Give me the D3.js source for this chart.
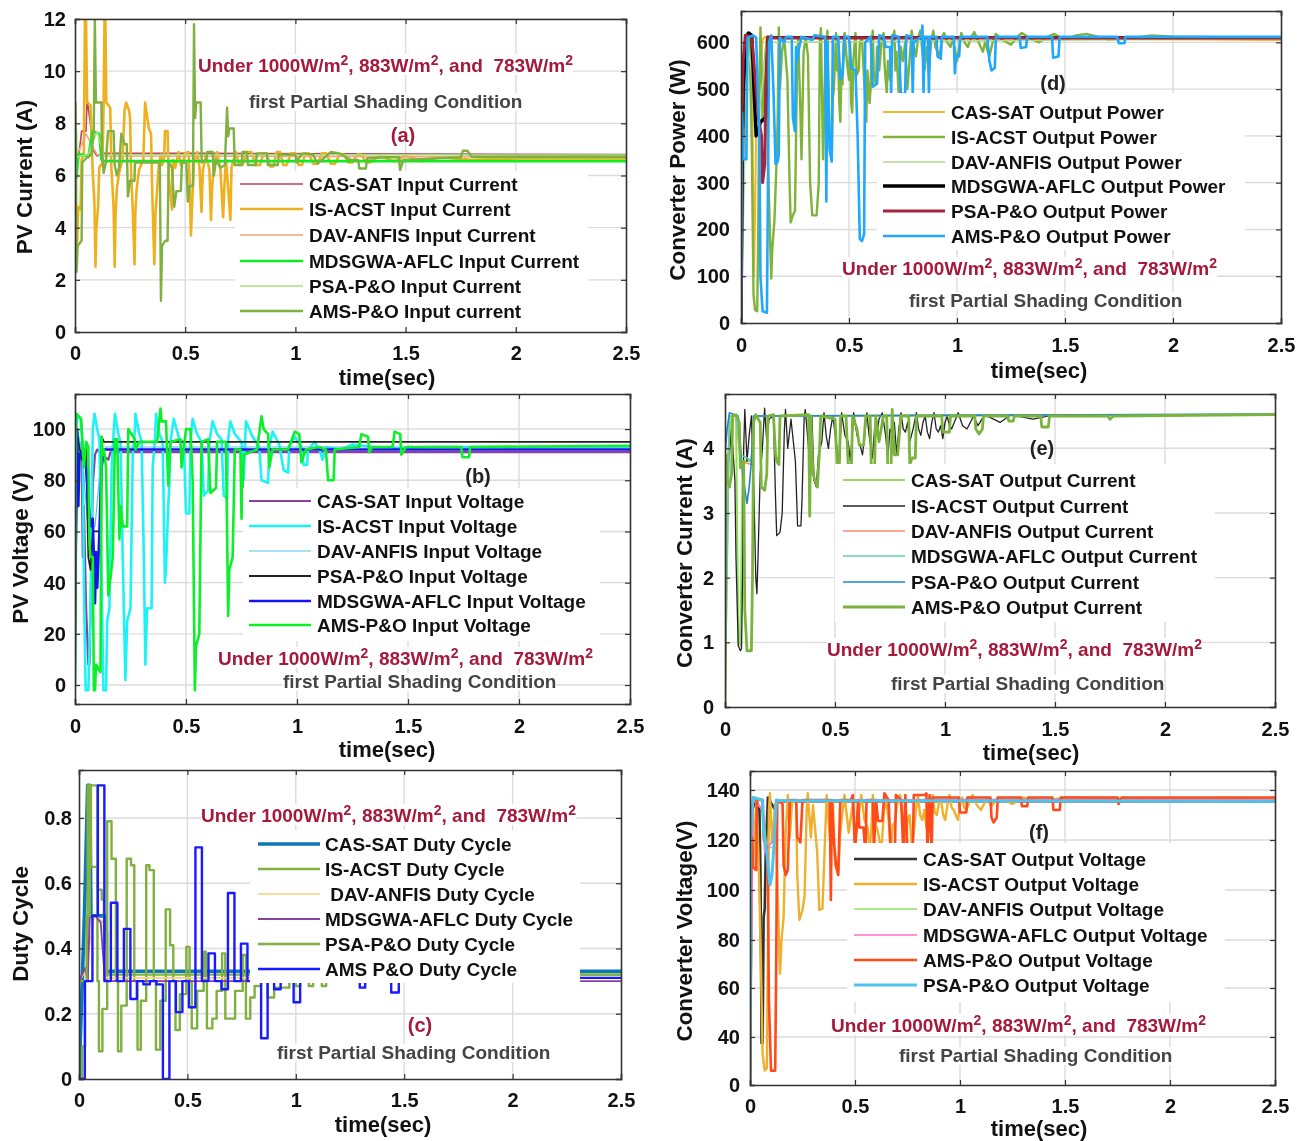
<!DOCTYPE html>
<html>
<head>
<meta charset="utf-8">
<script src="https://cdn.jsdelivr.net/npm/d3@7"></script>
<style>
  html, body { margin: 0; padding: 0; background: #fff; }
  svg { display: block; font-family: "Liberation Sans", Arial, sans-serif; filter: blur(0.45px); }
</style>
</head>
<body>
<div id="chart"></div>
<script>
const timeTicks = [0, 0.5, 1, 1.5, 2, 2.5];

// (a) PV current
const aTicks = [0, 2, 4, 6, 8, 10, 12];
const aNames = ['CAS-SAT Input Current', 'IS-ACST Input Current', 'DAV-ANFIS Input Current', 'MDSGWA-AFLC Input Current', 'PSA-P&O Input Current', 'AMS-P&O Input current'];
const aCas = [[0,6.5],[.015,6.6],[.03,7.7],[.05,7.7],[.055,8.9],[.07,8],[.08,7],[.1,6.75],[.13,6.85],[.56,6.85],[2.5,6.8]];
const aIs = [[0,2.3],[.01,3.5],[.015,4.8],[.025,4.7],[.03,6.6],[.04,6.8],[.045,12],[.05,12],[.055,8.8],[.07,8.7],[.075,7.5],[.08,6.2],[.088,5],[.093,2.5],[.097,4],[.105,4.8],[.11,6.3],[.125,6.5],[.13,8.8],[.134,12],[.138,12],[.142,8.8],[.16,8.6],[.165,6.3],[.175,4.8],[.18,2.5],[.184,4.5],[.19,5.5],[.2,6.1],[.215,6.6],[.225,8.5],[.232,8.8],[.245,8.5],[.25,8.2],[.255,6],[.262,4.7],[.27,2.6],[.274,4.6],[.28,5.5],[.29,6.2],[.31,6.6],[.318,8.8],[.325,8.4],[.335,7.8],[.345,7.6],[.35,5.5],[.36,2.6],[.365,4.5],[.38,6.4],[.39,6.8],[.395,6.4],[.405,6.7],[.408,7.7],[.42,7.7],[.425,6],[.44,4.7],[.445,6.6],[.455,6.3],[.47,6.9],[.48,6.4],[.49,6.5],[.5,6.85],[.515,6.9],[.52,5.8],[.526,3.7],[.532,5],[.54,6.5],[.555,6.9],[.565,6.3],[.574,4.6],[.58,6.2],[.595,6.8],[.61,6.2],[.617,4.3],[.622,5.5],[.63,6.4],[.645,6.9],[.66,6.2],[.672,4.4],[.678,5.6],[.685,6.6],[.695,5.5],[.705,4.3],[.71,6.3],[.73,6.9],[.745,6.4],[.76,6.4],[.78,6.9],[.8,6.9],[.82,6.4],[.84,6.4],[.855,6.85],[.87,6.85],[.885,6.35],[.9,6.35],[.915,6.9],[.93,6.9],[.945,6.4],[.96,6.4],[.98,6.85],[1,6.85],[1.015,6.4],[1.03,6.4],[1.045,6.85],[1.06,6.85],[1.08,6.45],[1.1,6.45],[1.12,6.85],[1.14,6.85],[1.16,6.45],[1.18,6.45],[1.2,6.8],[1.22,6.8],[1.24,6.5],[1.26,6.5],[1.28,6.8],[1.3,6.8],[1.32,6.5],[1.34,6.5],[1.38,6.75],[1.45,6.55],[1.5,6.75],[1.58,6.55],[1.65,6.7],[1.8,6.6],[2,6.65],[2.5,6.65]];
const aDav = [[0,6.6],[.05,7.6],[.1,6.8],[.13,6.75],[2.5,6.7]];
const aMds = [[0,6.5],[.004,7.7],[.007,5.9],[.015,6.8],[.04,6.8],[.06,6.7],[.08,7.7],[.11,7.6],[.12,6.6],[.13,6.55],[2.5,6.55]];
const aPsa = [[0,6.7],[.06,6.8],[.1,7.7],[.13,6.8],[2.5,6.78]];
const aAms = [[0,6.8],[.002,8.8],[.005,6],[.007,2.3],[.012,3.3],[.03,3.5],[.033,6.5],[.055,6.7],[.075,6.8],[.085,7.7],[.09,12],[.095,8.8],[.12,8.8],[.122,7],[.13,6.1],[.14,6.5],[.15,7.7],[.175,7.7],[.18,6.4],[.19,6],[.2,6.3],[.21,7.6],[.225,7.2],[.235,7.2],[.24,5.2],[.25,5.8],[.27,5.8],[.272,6.5],[.385,6.5],[.39,1.2],[.395,3.3],[.41,3.5],[.42,3.5],[.425,6.5],[.44,6.3],[.45,4.8],[.46,5.4],[.48,5.4],[.485,6.5],[.505,6.5],[.512,5],[.52,5.6],[.535,5.6],[.54,11.8],[.545,8.2],[.55,8.8],[.57,8.8],[.575,6.5],[.595,6.6],[.6,6.9],[.625,6.9],[.63,6],[.64,6.6],[.66,6.3],[.68,6.4],[.69,8.6],[.695,7.5],[.7,7.8],[.72,7.8],[.725,6.4],[.755,6.4],[.76,6.9],[.78,6.9],[.785,6.4],[.82,6.4],[.825,6.85],[.87,6.85],[.875,6.4],[.92,6.4],[.925,6.8],[1,6.8],[1.005,6.5],[1.03,6.85],[1.08,6.8],[1.1,6.45],[1.16,6.9],[1.2,6.85],[1.25,6.6],[1.285,6.6],[1.29,6.27],[1.32,6.27],[1.325,6.65],[1.4,6.7],[1.47,6.7],[1.475,6.2],[1.49,6.6],[1.75,6.7],[1.76,6.95],[1.78,6.95],[1.8,6.72],[2.5,6.72]];

// (b) PV voltage
const bTicks = [0, 20, 40, 60, 80, 100];
const bNames = ['CAS-SAT Input Voltage', 'IS-ACST Input Voltage', 'DAV-ANFIS Input Voltage', 'PSA-P&O Input Voltage', 'MDSGWA-AFLC Input Voltage', 'AMS-P&O Input Voltage'];
const bCas = [[0,90],[.03,90],[.035,50],[.04,70],[.05,30],[.06,8],[.065,8],[.07,28],[.08,78],[.09,90],[.1,92],[.11,91],[.15,88],[.16,91],[2.5,91]];
const bIs = [[0,0],[.004,100],[.01,105],[.025,104],[.035,94],[.04,40],[.048,-2],[.06,-2],[.07,30],[.08,100],[.088,106],[.1,100],[.11,96],[.12,40],[.128,-2],[.14,-2],[.145,25],[.155,30],[.165,85],[.175,100],[.18,106],[.195,98],[.205,95],[.215,50],[.227,2],[.235,25],[.25,30],[.26,90],[.27,100],[.272,106],[.29,98],[.3,95],[.31,50],[.317,8],[.325,30],[.345,30],[.35,85],[.36,96],[.365,106],[.38,98],[.395,95],[.405,40],[.41,46],[.42,70],[.425,78],[.43,95],[.445,104],[.47,96],[.49,95],[.5,67],[.515,67],[.52,95],[.53,104],[.55,98],[.57,95],[.58,74],[.6,76],[.605,95],[.62,103],[.64,98],[.66,96],[.67,74],[.685,73],[.69,96],[.7,103],[.72,98],[.75,95],[.76,80],[.77,103],[.8,97],[.83,93],[.84,80],[.87,79],[.875,93],[.89,99],[.92,94],[.94,84],[.96,83],[.965,93],[.99,97],[1.02,93],[1.03,86],[1.045,86],[1.05,92],[1.08,95],[1.105,91],[1.115,88],[1.13,93],[1.2,92],[1.25,94],[1.35,93],[1.45,92.5],[1.6,93],[2.5,93]];
const bDav = [[0,60],[.01,100],[.03,92],[.06,60],[.09,62],[.12,90],[.14,93],[2.5,93]];
const bPsa = [[0,0],[.01,98],[.03,88],[.05,92],[.06,50],[.07,45],[.08,60],[.118,60],[.12,97],[.13,95],[2.5,95]];
const bMds = [[0,35],[.01,100],[.015,70],[.02,90],[.04,92],[.05,85],[.06,72],[.07,62],[.08,65],[.085,50],[.09,32],[.095,52],[.1,38],[.105,48],[.11,60],[.12,85],[.13,92],[2.5,92]];
const bAms = [[0,0],[.002,80],[.006,106],[.028,104],[.032,96],[.04,85],[.05,95],[.06,93],[.065,55],[.07,50],[.08,50],[.085,-2],[.09,-2],[.095,8],[.115,5],[.12,97],[.125,90],[.13,92],[.14,85],[.15,35],[.16,42],[.17,50],[.18,96],[.19,96],[.2,57],[.205,70],[.215,62],[.235,62],[.24,100],[.255,98],[.27,96],[.272,92],[.29,95],[.37,95],[.385,108],[.39,103],[.41,103],[.42,78],[.43,95],[.475,96],[.48,85],[.5,100],[.52,100],[.53,80],[.54,-2],[.545,15],[.56,20],[.57,95],[.6,96],[.61,75],[.635,77],[.64,95],[.68,95],[.69,27],[.695,45],[.71,50],[.72,92],[.745,92],[.75,65],[.76,90],[.82,92],[.84,105],[.85,100],[.87,98],[.875,85],[.89,92],[.96,92],[.99,99],[1.01,98],[1.02,87],[1.04,92],[1.1,93],[1.13,92],[1.14,80],[1.165,80],[1.17,92],[1.28,93],[1.29,98],[1.32,97],[1.325,91],[1.34,93],[1.43,93],[1.44,99],[1.465,98],[1.47,90],[1.49,93],[1.74,93],[1.745,89],[1.775,89],[1.78,93],[2.5,93.5]];

// (c) duty cycle
const cTicks = [0, 0.2, 0.4, 0.6, 0.8];
const cNames = ['CAS-SAT Duty Cycle', 'IS-ACST Duty Cycle', ' DAV-ANFIS Duty Cycle', 'MDSGWA-AFLC Duty Cycle', 'PSA-P&O Duty Cycle', 'AMS P&O Duty Cycle'];
const cCas = [[0,0],[.025,.5],[.04,.9],[.05,.9],[.055,.5],[.12,.5],[.125,.33],[2.5,.33]];
const cIs = [[0,0],[.015,.1],[.028,.3],[.04,.9],[.085,.3],[.092,.085],[.108,.215],[.13,.79],[.15,.675],[.17,.3],[.18,.085],[.195,.225],[.22,.675],[.24,.655],[.255,.3],[.27,.09],[.285,.24],[.31,.655],[.325,.64],[.345,.3],[.355,.09],[.375,.24],[.4,.52],[.42,.41],[.435,.3],[.445,.15],[.465,.26],[.495,.405],[.51,.3],[.52,.155],[.545,.27],[.575,.39],[.585,.3],[.59,.155],[.615,.185],[.635,.27],[.66,.385],[.675,.185],[.705,.185],[.72,.27],[.755,.38],[.77,.185],[.79,.25],[.81,.285],[.84,.3],[.87,.25],[.9,.28],[.97,.3],[1.0,.285],[1.02,.3],[1.06,.285],[1.08,.3],[1.12,.285],[1.14,.3],[2.3,.32],[2.5,.32]];
const cDav = [[0,.3],[.03,.33],[.07,.5],[.115,.48],[.125,.31],[2.5,.31]];
const cMds = [[0,.3],[.028,.34],[.04,.3],[.05,.5],[.075,.5],[.1,.48],[.12,.3],[2.5,.3]];
const cPsa = [[0,.3],[.035,.5],[.05,.9],[.055,.65],[.085,.58],[.105,.55],[.115,.45],[.13,.32],[2.5,.32]];
const cAms = [[0,0],[.027,.3],[.062,.5],[.087,.9],[.117,.3],[.147,.54],[.177,.3],[.207,.46],[.237,.245],[.267,.3],[.297,.29],[.327,.3],[.357,.29],[.387,0],[.417,.3],[.447,.205],[.477,.3],[.507,.22],[.537,.71],[.567,.3],[.597,.385],[.627,.3],[.657,.275],[.687,.57],[.717,.3],[.747,.415],[.777,.3],[.84,.125],[.87,.3],[.9,.275],[.93,.3],[.99,.235],[1.02,.3],[1.295,.28],[1.32,.3],[1.44,.265],[1.475,.31],[2.5,.31]];

// (d) converter power
const dTicks = [0, 100, 200, 300, 400, 500, 600];
const dNames = ['CAS-SAT Output Power', 'IS-ACST Output Power', 'DAV-ANFIS Output Power', 'MDSGWA-AFLC Output Power', 'PSA-P&O Output Power', 'AMS-P&O Output Power'];
const dCas = [[0,0],[.02,610],[.05,610],[.06,100],[.065,230],[.07,400],[.1,605],[.11,612],[2.5,605]];
const dIs = [[0,0],[.006,460],[.015,420],[.02,610],[.03,620],[.04,600],[.05,380],[.058,60],[.065,28],[.075,25],[.08,200],[.085,500],[.09,632],[.095,560],[.1,430],[.11,560],[.12,610],[.125,340],[.14,95],[.145,160],[.155,220],[.165,350],[.17,440],[.175,632],[.18,500],[.19,580],[.2,610],[.215,520],[.225,300],[.23,215],[.24,230],[.25,240],[.255,400],[.26,570],[.265,610],[.275,450],[.28,350],[.29,580],[.3,610],[.31,570],[.32,300],[.33,230],[.35,230],[.36,300],[.365,600],[.37,630],[.38,350],[.39,560],[.4,625],[.405,480],[.41,400],[.42,350],[.425,480],[.43,500],[.44,620],[.445,540],[.45,560],[.455,470],[.46,430],[.465,540],[.47,510],[.475,610],[.48,620],[.49,560],[.5,520],[.505,600],[.51,470],[.515,450],[.52,560],[.53,620],[.535,530],[.545,540],[.55,600],[.56,610],[.57,520],[.575,470],[.58,430],[.585,540],[.595,470],[.6,500],[.605,600],[.61,625],[.615,530],[.625,510],[.63,590],[.64,540],[.65,600],[.66,620],[.665,550],[.675,490],[.68,560],[.69,520],[.7,600],[.71,625],[.715,540],[.72,580],[.73,490],[.74,590],[.75,560],[.76,600],[.77,500],[.78,560],[.79,625],[.8,590],[.81,570],[.82,610],[.83,625],[.84,580],[.85,540],[.86,590],[.87,535],[.88,600],[.89,625],[.9,590],[.92,570],[.93,610],[.94,620],[.955,600],[.97,590],[.98,610],[1,560],[1.01,590],[1.02,620],[1.035,600],[1.05,590],[1.065,610],[1.08,622],[1.1,600],[1.12,580],[1.13,600],[1.15,570],[1.165,600],[1.18,618],[1.21,605],[1.25,595],[1.28,612],[1.3,620],[1.34,608],[1.38,600],[1.42,612],[1.45,618],[1.5,605],[1.55,615],[1.6,618],[1.7,606],[1.8,608],[1.9,615],[2,612],[2.5,610]];
const dDav = [[0,0],[.03,600],[.06,500],[.08,430],[.12,600],[2.5,608]];
const dMds = [[0,0],[.005,300],[.01,500],[.025,610],[.035,620],[.05,615],[.06,500],[.07,400],[.08,410],[.09,430],[.115,440],[.12,550],[.125,610],[2.5,610]];
const dPsa = [[0,0],[.005,450],[.01,560],[.02,615],[.05,612],[.07,500],[.08,440],[.095,400],[.1,300],[.11,340],[.115,500],[.125,612],[.13,610],[2.5,610]];
const dAms = [[0,0],[.005,450],[.01,350],[.025,350],[.03,610],[.055,615],[.07,610],[.085,400],[.09,100],[.1,25],[.12,22],[.125,300],[.13,600],[.14,615],[.15,500],[.16,340],[.17,345],[.175,360],[.18,610],[.2,600],[.21,612],[.235,612],[.24,440],[.25,410],[.255,590],[.26,560],[.27,590],[.28,612],[.33,605],[.34,615],[.39,612],[.395,260],[.4,600],[.41,370],[.42,345],[.425,612],[.45,612],[.46,520],[.47,530],[.48,612],[.5,612],[.51,545],[.53,540],[.54,400],[.55,180],[.56,175],[.57,190],[.575,600],[.6,612],[.61,505],[.63,512],[.64,615],[.66,612],[.67,590],[.69,590],[.695,490],[.7,615],[.73,612],[.74,490],[.76,490],[.765,615],[.79,612],[.795,490],[.8,600],[.835,612],[.84,636],[.845,490],[.85,612],[.865,612],[.87,490],[.875,612],[.905,612],[.91,570],[.925,565],[.93,612],[.985,612],[.99,534],[.995,570],[1.01,570],[1.015,612],[1.14,612],[1.15,560],[1.16,540],[1.175,545],[1.18,612],[1.29,612],[1.295,588],[1.32,590],[1.325,612],[1.44,612],[1.445,567],[1.47,570],[1.475,612],[1.74,612],[1.75,598],[1.775,598],[1.78,612],[2.5,612]];

// (e) converter current
const eTicks = [0, 1, 2, 3, 4];
const eNames = ['CAS-SAT Output Current', 'IS-ACST Output Current', 'DAV-ANFIS Output Current', 'MDSGWA-AFLC Output Current', 'PSA-P&O Output Current', 'AMS-P&O Output Current'];
const eCas = [[0,0],[.01,3.8],[.03,4.5],[.05,4.5],[.058,2],[.062,1],[.07,.95],[.08,3.8],[.12,3.8],[.13,4.5],[2.5,4.52]];
const eIs = [[0,0],[.005,3.9],[.01,3.6],[.02,3.9],[.03,4.3],[.045,3.5],[.05,2.3],[.06,.95],[.07,.87],[.075,.9],[.08,2],[.085,4],[.09,4.6],[.1,3.8],[.11,4.2],[.12,4.5],[.13,3.5],[.14,2],[.145,1.75],[.15,2.3],[.16,3.6],[.17,4],[.18,4.62],[.19,4.1],[.2,4.45],[.22,4.5],[.23,3.2],[.235,2.65],[.25,2.7],[.26,3],[.27,4.3],[.275,4.6],[.285,4],[.3,4.45],[.32,3.8],[.33,2.8],[.345,2.8],[.35,3.2],[.36,4.5],[.365,4.6],[.38,4],[.395,4.5],[.405,3.5],[.415,3.4],[.425,3.9],[.44,4.1],[.45,4.55],[.46,4.2],[.47,4],[.48,4.3],[.49,4.5],[.505,4.1],[.52,3.8],[.53,4.55],[.545,4.2],[.56,4.1],[.57,3.8],[.585,4.55],[.6,4.2],[.61,4.1],[.625,3.9],[.635,4.2],[.645,4.55],[.655,4.2],[.67,3.85],[.68,4.3],[.69,4.2],[.7,4.45],[.715,4.55],[.73,4.2],[.74,3.85],[.75,4.3],[.76,4.2],[.77,4.4],[.78,3.9],[.79,4.3],[.8,4.55],[.81,4.3],[.82,4.25],[.83,4.4],[.84,4.1],[.855,4.3],[.87,4.55],[.88,4.3],[.89,4.2],[.9,4.4],[.91,4.5],[.92,4.25],[.93,4.15],[.94,4.4],[.95,4.55],[.96,4.3],[.97,4.25],[.98,4.35],[.99,4.15],[1,4.4],[1.01,4.5],[1.02,4.35],[1.03,4.3],[1.06,4.55],[1.08,4.35],[1.1,4.3],[1.13,4.5],[1.15,4.35],[1.18,4.52],[1.25,4.4],[1.3,4.52],[1.4,4.45],[1.5,4.52],[2.5,4.52]];
const eDav = [[0,0],[.02,4.5],[.05,4.5],[.07,3.8],[.12,3.75],[.13,4.5],[2.5,4.52]];
const eMds = [[0,0],[.02,4.5],[.05,4.5],[.07,3.9],[.1,3.85],[.125,3.8],[.13,4.5],[2.5,4.52]];
const ePsa = [[0,3.9],[.01,4.3],[.02,4.55],[.06,4.5],[.08,3.6],[.1,3.15],[.11,3.4],[.12,3.8],[.13,4.5],[2.5,4.53]];
const eAms = [[0,0],[.002,3.2],[.005,3.9],[.01,3.5],[.02,3.4],[.03,3.6],[.035,4.5],[.05,4.52],[.065,4.4],[.07,3.7],[.085,3.8],[.09,1.5],[.1,.87],[.12,.87],[.125,2],[.13,4.4],[.14,4.52],[.16,4.4],[.165,3.4],[.18,3.35],[.19,3.6],[.195,4.5],[.22,4.52],[.23,3.9],[.235,3.8],[.245,3.75],[.25,4.5],[.38,4.52],[.385,2.95],[.39,4.5],[.4,3.6],[.42,3.4],[.43,4],[.435,4.5],[.5,4.45],[.51,3.75],[.52,3.75],[.525,4.5],[.55,4.5],[.56,3.75],[.575,3.75],[.58,4.5],[.6,4.3],[.61,4.05],[.63,4.05],[.64,4.5],[.66,4.5],[.665,3.7],[.68,3.7],[.685,4.5],[.7,4.1],[.72,4.5],[.735,4.5],[.74,3.7],[.755,3.7],[.76,4.6],[.77,3.9],[.785,3.9],[.8,4.5],[.835,4.5],[.84,3.75],[.85,3.85],[.865,3.85],[.87,4.5],[.985,4.5],[.99,4.25],[1.02,4.25],[1.025,4.5],[1.135,4.5],[1.14,4.3],[1.155,4.22],[1.17,4.3],[1.175,4.5],[1.285,4.5],[1.29,4.42],[1.31,4.42],[1.315,4.5],[1.435,4.5],[1.44,4.33],[1.47,4.33],[1.475,4.5],[1.74,4.5],[1.75,4.45],[1.765,4.5],[2.5,4.52]];

// (f) converter voltage, the picture's axis has no 20 label so its steps are uneven
const fTicks = [0, 40, 60, 80, 100, 120, 140];
const fNames = ['CAS-SAT Output Voltage', 'IS-ACST Output Voltage', 'DAV-ANFIS Output Voltage', 'MDSGWA-AFLC Output Voltage', 'AMS-P&O Output Voltage', 'PSA-P&O Output Voltage'];
const fCas = [[0,0],[.01,132],[.03,136],[.045,132],[.05,106],[.055,35],[.06,35],[.065,89],[.07,92.5],[.075,115],[.085,137],[.12,132],[.13,135.5],[2.5,135.5]];
const fIs = [[0,0],[.005,121],[.015,110],[.03,136],[.04,115],[.05,80],[.06,26],[.07,12],[.08,14],[.085,72],[.09,132],[.095,138.7],[.105,119],[.12,134.4],[.13,106],[.14,72],[.143,66],[.15,80],[.16,89],[.17,123],[.18,138],[.19,121],[.2,135],[.22,136],[.225,106],[.235,88],[.25,92],[.26,97.6],[.27,132],[.275,138.7],[.29,121],[.3,134],[.32,115],[.33,92],[.345,92.5],[.355,115],[.365,138],[.38,121],[.395,135],[.405,110],[.42,106],[.43,123],[.45,138],[.47,123],[.49,135],[.5,119],[.515,128],[.53,138],[.545,128],[.56,125],[.57,115],[.58,128],[.585,138],[.6,126],[.61,123],[.625,115],[.635,128],[.645,138],[.66,128],[.67,115],[.68,126],[.69,127],[.7,134],[.715,138],[.73,126],[.74,115],[.75,128],[.76,130],[.77,118],[.78,123],[.79,132],[.8,138],[.81,130],[.82,128],[.83,132],[.84,125],[.855,132],[.87,138],[.88,131],[.89,130],[.9,135],[.91,136],[.92,130],[.93,128],[.94,134],[.95,138],[.96,133],[.97,132],[.99,128],[1,134],[1.01,137],[1.02,133],[1.03,132],[1.06,138],[1.08,134],[1.1,132],[1.13,137],[1.15,133.5],[1.18,137],[1.25,134.4],[1.3,137],[1.4,135.5],[1.5,137],[2.5,136]];
const fDav = [[0,0],[.015,136],[.06,132],[.08,117],[.115,117],[.13,136],[2.5,136]];
const fMds = [[0,0],[.015,137],[.06,132],[.07,115],[.11,120],[.13,136],[2.5,136.5]];
const fAms = [[0,0],[.003,102],[.01,121],[.015,109],[.03,108],[.032,136],[.06,136],[.065,121],[.08,117],[.085,106],[.09,55],[.1,12],[.12,12],[.125,72],[.13,136],[.155,134.4],[.16,110],[.17,106],[.18,108],[.19,136],[.22,136],[.225,121],[.24,119],[.25,136],[.38,136],[.385,96],[.39,136],[.4,119],[.41,110],[.42,106],[.43,136],[.48,136],[.49,138],[.5,115],[.515,136],[.52,125],[.54,125],[.55,115],[.555,136],[.585,136],[.59,115],[.6,136],[.61,127.6],[.63,127.6],[.64,138.7],[.66,136],[.67,115],[.69,115],[.695,138],[.72,136],[.73,115],[.74,138],[.75,115],[.775,115],[.78,138],[.835,138],[.84,138.7],[.845,115],[.855,138],[.865,115],[.87,137],[.995,137],[1,131],[1.03,131],[1.035,137],[1.145,137],[1.15,129],[1.16,127],[1.175,129],[1.18,137],[1.29,137],[1.295,133.5],[1.32,133.5],[1.325,137],[1.44,137],[1.445,132],[1.475,132],[1.48,137],[1.75,137],[1.755,134.4],[1.77,137],[2.5,137]];
const fPsa = [[0,0],[.003,121],[.01,132],[.015,137],[.06,136],[.065,123],[.08,115],[.095,102],[.105,106],[.115,119],[.125,136],[.135,135.8],[2.5,135.5]];

const underParts = ['Under 1000W/m', ', 883W/m', ', and  783W/m'];
const firstText = 'first Partial Shading Condition';

const panels = [
  { tag: '(a)', tagX: 403, tagY: 142, tagColor: '#a5193c', yTitle: 'PV Current (A)', yTitleX: 32, yTitleCy: 177,
    box: [75, 19, 626, 332], yDomain: [0, 12], yTicks: aTicks, xPad: 14, yPad: 9, xLabel: [387, 385],
    mask: [235, 171, 588, 328], legX: [240, 303, 309], legY: [184, 209, 235, 261, 286, 311], names: aNames,
    under: [198, 72], first: [249, 108],
    series: [[aCas, '#b5475f', 1.6], [aIs, '#efb020', 2.6], [aDav, '#f9a27f', 1.6], [aMds, '#0dee20', 2.6], [aPsa, '#a8e27c', 1.6], [aAms, '#7fb040', 2.4]] },
  { tag: '(b)', tagX: 478, tagY: 483, tagColor: '#222', yTitle: 'PV Voltage (V)', yTitleX: 28, yTitleCy: 548,
    box: [75, 394, 630, 704], yDomain: [-7.4, 113.7], yTicks: bTicks, xPad: 15, yPad: 9, xLabel: [387, 757],
    mask: [243, 488, 600, 641], legX: [249, 311, 317], legY: [501, 526, 551, 576, 601, 625], names: bNames,
    under: [218, 665], first: [283, 688],
    series: [[bCas, '#8c3fa0', 2.2], [bIs, '#1ff2f4', 2.6], [bDav, '#4fc4ee', 1.2], [bPsa, '#222', 1.8], [bMds, '#1414f0', 2.6], [bAms, '#0cf02a', 2.6]] },
  { tag: '(c)', tagX: 420, tagY: 1032, tagColor: '#a5193c', yTitle: 'Duty Cycle', yTitleX: 28, yTitleCy: 924,
    box: [79, 770, 621, 1079], yDomain: [0, 0.947], yTicks: cTicks, xPad: 14, yPad: 7, xLabel: [383, 1132],
    mask: [250, 830, 580, 983], legX: [258, 320, 325], legY: [844, 869, 894, 919, 944, 969], names: cNames,
    under: [201, 822], first: [277, 1059],
    series: [[cCas, '#0a78b8', 3.6], [cIs, '#7fb040', 2.4, true], [cDav, '#f8cf7a', 1.6], [cMds, '#8c3fa0', 1.8], [cPsa, '#7fb040', 2.4, true], [cAms, '#1a1aff', 2.4, true]] },
  { tag: '(d)', tagX: 1053, tagY: 90, tagColor: '#222', yTitle: 'Converter Power (W)', yTitleX: 685, yTitleCy: 170,
    box: [741, 11, 1281, 323], yDomain: [0, 667], yTicks: dTicks, xPad: 15, yPad: 11, xLabel: [1039, 378],
    mask: [877, 93, 1245, 250], legX: [883, 945, 951], legY: [112, 137, 162, 186, 211, 236], names: dNames,
    under: [842, 275], first: [909, 307],
    series: [[dCas, '#f5b52e', 2], [dIs, '#7fb33a', 2.4], [dDav, '#b7d98c', 1.6], [dMds, '#000', 3.4], [dPsa, '#a8243c', 3], [dAms, '#20a8ff', 2.6]] },
  { tag: '(e)', tagX: 1042, tagY: 455, tagColor: '#222', yTitle: 'Converter Current (A)', yTitleX: 692, yTitleCy: 553,
    box: [725, 394, 1275, 707], yDomain: [0, 4.84], yTicks: eTicks, xPad: 15, yPad: 11, xLabel: [1031, 760],
    mask: [835, 464, 1215, 622], legX: [843, 905, 911], legY: [480, 506, 531, 556, 582, 607], names: eNames,
    under: [827, 656], first: [891, 690],
    series: [[eCas, '#8ee05a', 2], [eIs, '#222', 1.3], [eDav, '#fb8a70', 1.6], [eMds, '#5fd0a8', 1.6], [ePsa, '#1f86c8', 1.6], [eAms, '#7ab43c', 2.8]] },
  { tag: '(f)', tagX: 1039, tagY: 839, tagColor: '#222', yTitle: 'Converter Voltage(V)', yTitleX: 692, yTitleCy: 931,
    box: [750, 771, 1275, 1085], yDomain: [0, 40, 60, 80, 100, 120, 140, 148], yRange: [1085, 1037, 988, 940, 890, 840, 790, 771],
    yTicks: fTicks, xPad: 14, yPad: 10, xLabel: [1039, 1136],
    mask: [847, 843, 1225, 1002], legX: [854, 917, 923], legY: [859, 884, 909, 935, 960, 985], names: fNames,
    under: [831, 1032], first: [899, 1062],
    series: [[fCas, '#333', 2.6], [fIs, '#efb030', 2.4], [fDav, '#8fe060', 1.6], [fMds, '#ff70c8', 1.6], [fAms, '#ff4a1a', 2.6], [fPsa, '#4fc3ee', 3]] }
];

const svg = d3.select('#chart').append('svg')
  .attr('width', 1311)
  .attr('height', 1141);

function maskBehind(group, textSel) {
  // white patch behind a note, it cuts the grid like in the picture
  const b = textSel.node().getBBox();
  group.insert('rect', function() { return textSel.node(); })
    .attr('x', b.x).attr('y', b.y + 2)
    .attr('width', b.width).attr('height', b.height - 3)
    .attr('fill', '#fff');
}

function drawPanel(p, i) {
  const [x0, y0, x1, y1] = p.box;
  const xScale = d3.scaleLinear().domain([0, 2.5]).range([x0, x1]);
  const yScale = d3.scaleLinear().domain(p.yDomain).range(p.yRange || [y1, y0]);
  const g = svg.append('g').attr('class', 'panel');

  g.append('defs').append('clipPath').attr('id', 'clip' + i)
    .append('rect').attr('x', x0).attr('y', y0).attr('width', x1 - x0).attr('height', y1 - y0);

  // Grid
  const grid = g.append('g').attr('stroke', '#dcdcdc').attr('stroke-width', 1.4);
  grid.selectAll('.gx').data(timeTicks.slice(1, -1)).enter().append('line')
    .attr('x1', d => xScale(d)).attr('x2', d => xScale(d)).attr('y1', y0).attr('y2', y1);
  grid.selectAll('.gy').data(p.yTicks.filter(d => d !== p.yDomain[0])).enter().append('line')
    .attr('x1', x0).attr('x2', x1).attr('y1', d => yScale(d)).attr('y2', d => yScale(d));

  // Curves
  const plot = g.append('g').attr('clip-path', `url(#clip${i})`);
  p.series.forEach(s => {
    const line = d3.line()
      .x(d => xScale(d[0]))
      .y(d => yScale(d[1]))
      .curve(s[3] ? d3.curveStepAfter : d3.curveLinear);
    plot.append('path').datum(s[0])
      .attr('fill', 'none')
      .attr('stroke', s[1])
      .attr('stroke-width', s[2])
      .attr('stroke-linejoin', 'round')
      .attr('d', line);
  });

  // Legend sits on a white patch
  g.append('rect')
    .attr('x', p.mask[0]).attr('y', p.mask[1])
    .attr('width', p.mask[2] - p.mask[0]).attr('height', p.mask[3] - p.mask[1])
    .attr('fill', '#fff');
  p.names.forEach((name, k) => {
    g.append('line')
      .attr('x1', p.legX[0]).attr('x2', p.legX[1])
      .attr('y1', p.legY[k]).attr('y2', p.legY[k])
      .attr('stroke', p.series[k][1])
      .attr('stroke-width', p.series[k][2]);
    g.append('text')
      .attr('x', p.legX[2]).attr('y', p.legY[k] + 7)
      .style('white-space', 'pre')
      .style('font-size', '19px')
      .style('font-weight', 'bold')
      .attr('fill', '#111')
      .text(name);
  });

  // Notes
  const under = g.append('text')
    .attr('x', p.under[0]).attr('y', p.under[1])
    .style('font-size', '19px').style('font-weight', 'bold')
    .style('white-space', 'pre')
    .attr('fill', '#a5193c');
  underParts.forEach((part, k) => {
    under.append('tspan').attr('dy', k ? '7px' : null).text(part);
    under.append('tspan').attr('dy', '-7px').style('font-size', '14px').text('2');
  });
  maskBehind(g, under);

  const first = g.append('text')
    .attr('x', p.first[0]).attr('y', p.first[1])
    .style('font-size', '19px').style('font-weight', 'bold')
    .attr('fill', '#444')
    .text(firstText);
  maskBehind(g, first);

  g.append('text')
    .attr('x', p.tagX).attr('y', p.tagY)
    .attr('text-anchor', 'middle')
    .style('font-size', '20px').style('font-weight', 'bold')
    .attr('fill', p.tagColor)
    .text(p.tag);

  // Axes, ticks point inside like MATLAB
  const xAxis = g.append('g').attr('transform', `translate(0,${y1})`)
    .call(d3.axisBottom(xScale).tickValues(timeTicks).tickFormat(d3.format('')).tickSize(-5).tickPadding(p.xPad));
  const yAxis = g.append('g').attr('transform', `translate(${x0},0)`)
    .call(d3.axisLeft(yScale).tickValues(p.yTicks).tickFormat(d3.format('')).tickSize(-5).tickPadding(p.yPad));
  g.append('g').attr('transform', `translate(0,${y0})`)
    .call(d3.axisTop(xScale).tickValues(timeTicks).tickFormat('').tickSize(-5));
  g.append('g').attr('transform', `translate(${x1},0)`)
    .call(d3.axisRight(yScale).tickValues(p.yTicks).tickFormat('').tickSize(-5));

  g.selectAll('.domain').attr('stroke', '#333').attr('stroke-width', 1.6);
  g.selectAll('.tick line').attr('stroke', '#333').attr('stroke-width', 1.2);
  [xAxis, yAxis].forEach(a => a.selectAll('text')
    .style('font-family', '"Liberation Sans", Arial, sans-serif')
    .style('font-size', '20px').style('font-weight', 'bold').attr('fill', '#111'));

  // Axis titles
  g.append('text')
    .attr('x', p.xLabel[0]).attr('y', p.xLabel[1])
    .attr('text-anchor', 'middle')
    .style('font-size', '22px').style('font-weight', 'bold').attr('fill', '#111')
    .text('time(sec)');
  g.append('text')
    .attr('transform', `translate(${p.yTitleX},${p.yTitleCy}) rotate(-90)`)
    .attr('text-anchor', 'middle')
    .style('font-size', '22.4px').style('font-weight', 'bold').attr('fill', '#111')
    .text(p.yTitle);
}

panels.forEach(drawPanel);
</script>
</body>
</html>
